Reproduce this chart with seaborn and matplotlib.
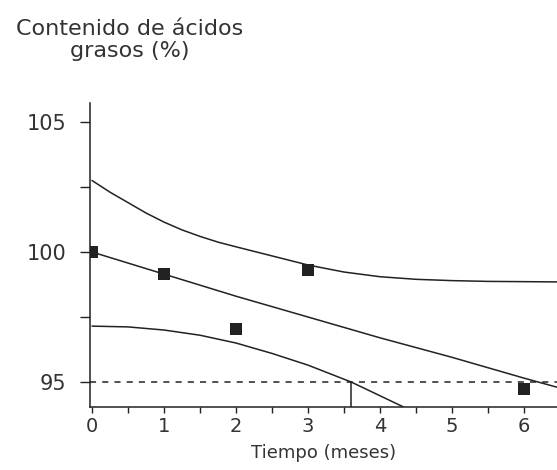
import numpy as np
import pandas as pd
import seaborn as sns
import matplotlib.pyplot as plt
from matplotlib.ticker import MultipleLocator

# data
meses_puntos = [0, 1, 2, 3, 6]
acidos_puntos = [100.0, 99.15, 97.05, 99.3, 94.75]

t_sup = [0, 0.25, 0.5, 0.75, 1, 1.25, 1.5, 1.75, 2, 2.5, 3, 3.5, 4, 4.5, 5, 5.5, 6, 6.46]
sup = [102.75, 102.3, 101.9, 101.5, 101.15, 100.85, 100.6, 100.38, 100.2, 99.85, 99.5,
       99.23, 99.05, 98.95, 98.9, 98.87, 98.86, 98.85]

t_med = [0, 1, 2, 3, 4, 5, 6, 6.46]
med = [100.0, 99.15, 98.3, 97.5, 96.7, 95.95, 95.15, 94.8]

t_inf = [0, 0.5, 1, 1.5, 2, 2.5, 3, 3.6, 4.32]
inf = [97.15, 97.12, 97.0, 96.8, 96.5, 96.1, 95.65, 95.0, 94.05]

limite = 95
t_corte = 3.6

sns.set_style("ticks")
plt.rcParams['font.family'] = ['DejaVu Sans']

fig = plt.figure(figsize=(5.57, 4.70), dpi=100)
ax = fig.add_axes([90/557, 63/470, 467/557, 304/470])

c = "#222222"
sns.lineplot(x=t_sup, y=sup, ax=ax, color=c, lw=1.1)
sns.lineplot(x=t_med, y=med, ax=ax, color=c, lw=1.1)
sns.lineplot(x=t_inf, y=inf, ax=ax, color=c, lw=1.1)
sns.scatterplot(x=meses_puntos, y=acidos_puntos, ax=ax, marker="s", s=80,
                color=c, edgecolor=c, linewidth=0, zorder=5)

ax.axhline(limite, color=c, lw=1.1, ls=(0, (4, 4)))
ax.plot([t_corte, t_corte], [94.04, limite], color=c, lw=1.1)

ax.set_xlim(-0.028, 6.458)
ax.set_ylim(94.04, 105.73)
ax.set_xticks(range(0, 7))
ax.xaxis.set_minor_locator(MultipleLocator(0.5))
ax.set_yticks([95, 100, 105])
ax.yaxis.set_minor_locator(MultipleLocator(2.5))
ax.tick_params(axis="x", which="both", direction="out", length=4, width=1, color=c,
               labelsize=14, labelcolor="#333333", pad=3)
ax.tick_params(axis="y", which="both", direction="out", length=7, width=1, color=c,
               labelsize=15, labelcolor="#333333", pad=10)
sns.despine(ax=ax)
for s in ("left", "bottom"):
    ax.spines[s].set_color(c)
    ax.spines[s].set_linewidth(1.1)

ax.set_xlabel("Tiempo (meses)", fontsize=13, color="#333333", labelpad=6)
ax.set_ylabel("")
fig.text(130/557, 1 - 40/470, "Contenido de ácidos\ngrasos (%)", ha="center", va="center",
         fontsize=16, color="#333333", linespacing=1.1)

fig.savefig("out.png", dpi=100)
